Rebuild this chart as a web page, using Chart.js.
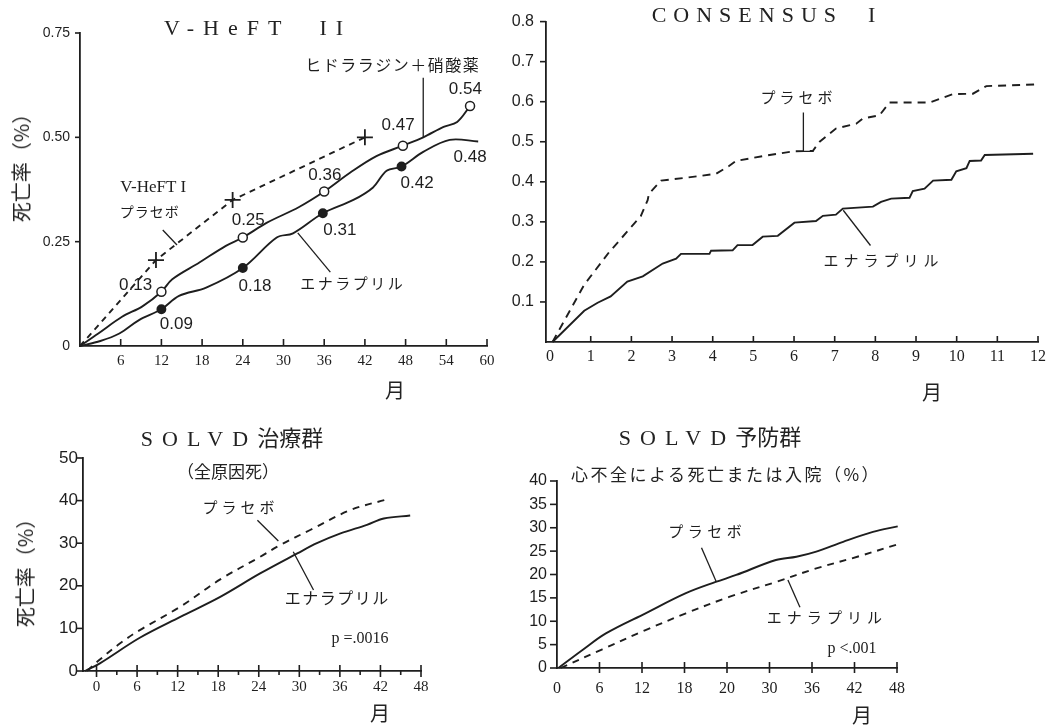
<!DOCTYPE html>
<html><head><meta charset="utf-8">
<script src="https://cdn.jsdelivr.net/npm/chart.js@4.4.1/dist/chart.umd.min.js"></script>
<style>
html,body{margin:0;padding:0;background:#fff;}
#wrap{position:relative;width:1060px;height:728px;overflow:hidden;background:#fff;}
canvas{position:absolute;}
.t{position:absolute;white-space:nowrap;color:#222;line-height:1;transform:translate(-50%,-50%);}
.serif{font-family:"Liberation Serif","DejaVu Serif",serif;}
.jp{font-family:"Noto Sans CJK JP",sans-serif;}
.rot{transform:translate(-50%,-50%) rotate(-90deg);}
</style></head><body>
<div id="wrap">
<canvas id="c1" width="530" height="405" style="left:0;top:0;width:530px;height:405px"></canvas>
<canvas id="c2" width="570" height="405" style="left:490px;top:0;width:570px;height:405px"></canvas>
<canvas id="c3" width="530" height="323" style="left:0;top:405px;width:530px;height:323px"></canvas>
<canvas id="c4" width="570" height="323" style="left:490px;top:405px;width:570px;height:323px"></canvas>

<div class="t serif" style="left:258px;top:28px;font-size:22px;letter-spacing:9px">V-HeFT&nbsp;&nbsp;II</div>
<div class="t serif" style="left:767px;top:15px;font-size:22px;letter-spacing:7px">CONSENSUS&nbsp;&nbsp;I</div>
<div class="t" style="left:232px;top:437px;font-size:22px"><span class="serif" style="letter-spacing:9px">SOLVD</span><span class="jp">治療群</span></div>
<div class="t" style="left:710px;top:436px;font-size:22px"><span class="serif" style="letter-spacing:9px">SOLVD</span><span class="jp">予防群</span></div>
<div class="t jp" style="left:228px;top:470px;font-size:17px">（全原因死）</div>
<div class="t jp" style="left:726px;top:473px;font-size:17px;letter-spacing:2.5px">心不全による死亡または入院（%）</div>
<div class="t jp rot" style="left:21px;top:163px;font-size:20px">死亡率（%）</div>
<div class="t jp rot" style="left:25px;top:568px;font-size:20px">死亡率（%）</div>
<div class="t jp" style="left:395px;top:390px;font-size:20px">月</div>
<div class="t jp" style="left:932px;top:392px;font-size:20px">月</div>
<div class="t jp" style="left:380px;top:713px;font-size:20px">月</div>
<div class="t jp" style="left:862px;top:715px;font-size:20px">月</div>
<div class="t serif" style="left:360px;top:638px;font-size:16px">p =.0016</div>
<div class="t serif" style="left:852px;top:648px;font-size:16px">p &lt;.001</div>
</div>
<script>
// ---------- V-HeFT II ----------
const vheftXTicks = [6, 12, 18, 24, 30, 36, 42, 48, 54, 60];
const vheftYTicks = [0, 0.25, 0.5, 0.75];
const vheftYLabels = ['0', '0.25', '0.50', '0.75'];
const hydMonths = [0, 2.7, 6.2, 9.2, 12, 13.6, 17.6, 21.5, 24, 27.5, 32.3, 36, 39.8, 43.7, 47.6, 50.6, 53.6, 55.6, 57.5];
const hydRate   = [0, 0.03, 0.07, 0.095, 0.13, 0.16, 0.20, 0.24, 0.26, 0.295, 0.333, 0.37, 0.415, 0.455, 0.48, 0.50, 0.525, 0.537, 0.575];
const hydMarkMonths = [12, 24, 36, 47.6, 57.5];
const enaMonths = [0, 3, 5.8, 8.7, 12, 14.6, 18.6, 24, 29, 31.4, 35.8, 40.3, 43.2, 45.2, 47.4, 50.6, 54.5, 58.7];
const enaRate   = [0, 0.012, 0.03, 0.062, 0.088, 0.12, 0.14, 0.187, 0.26, 0.27, 0.318, 0.35, 0.38, 0.42, 0.43, 0.465, 0.494, 0.49];
const enaMarkMonths = [12, 24, 35.8, 47.4];
const plcMonths = [0, 11.2, 22.5, 42];
const plcRate   = [0, 0.206, 0.35, 0.50];
const hydLabels = ['0.13', '0.25', '0.36', '0.47', '0.54'];
const enaLabels = ['0.09', '0.18', '0.31', '0.42', '0.48'];

// ---------- CONSENSUS I ----------
const consXTicks = [0, 1, 2, 3, 4, 5, 6, 7, 8, 9, 10, 11, 12];
const consYTicks = [0.1, 0.2, 0.3, 0.4, 0.5, 0.6, 0.7, 0.8];
const consPlcMonths = [0.06, 0.84, 1.45, 2.23, 2.4, 2.43, 2.73, 3.34, 4.08, 4.41, 4.57, 5.23, 5.97, 6.46, 6.63, 7.03, 7.53, 7.69, 8.1, 8.35, 9.34, 9.91, 10.4, 10.73, 11.96];
const consPlcRate   = [0, 0.143, 0.224, 0.314, 0.354, 0.37, 0.403, 0.41, 0.42, 0.44, 0.452, 0.464, 0.476, 0.477, 0.50, 0.533, 0.545, 0.558, 0.566, 0.598, 0.598, 0.619, 0.62, 0.639, 0.643];
const consEnaMonths = [0.06, 0.84, 1.17, 1.49, 1.9, 2.28, 2.77, 3.1, 3.22, 3.92, 3.96, 4.49, 4.61, 4.98, 5.23, 5.6, 6.01, 6.54, 6.71, 7.03, 7.2, 7.94, 8.14, 8.39, 8.84, 8.92, 9.21, 9.42, 9.87, 9.99, 10.24, 10.32, 10.6, 10.69, 11.88];
const consEnaRate   = [0, 0.078, 0.098, 0.114, 0.151, 0.164, 0.196, 0.208, 0.22, 0.22, 0.228, 0.229, 0.242, 0.242, 0.263, 0.265, 0.298, 0.302, 0.315, 0.318, 0.333, 0.338, 0.35, 0.358, 0.36, 0.377, 0.383, 0.403, 0.405, 0.426, 0.434, 0.452, 0.453, 0.467, 0.47];

// ---------- SOLVD treatment ----------
const solTXTicks = [0, 6, 12, 18, 24, 30, 36, 42, 48];
const solTXMinor = [3, 9, 15, 21, 27, 33, 39, 45];
const solTYTicks = [0, 10, 20, 30, 40, 50];
const solTPlcMonths = [-1.4, 0.5, 3.5, 6.4, 12.4, 18.3, 24.2, 27.2, 31.6, 37.6, 43];
const solTPlcRate   = [0, 2.7, 6.5, 9.6, 15.1, 21.5, 26.8, 29.6, 33.1, 37.8, 40.3];
const solTEnaMonths = [-1.7, 0.5, 6.4, 12.4, 18.3, 24.2, 29.7, 32.6, 36.1, 40, 42.5, 46.4];
const solTEnaRate   = [0, 1.8, 7.8, 12.7, 17.4, 22.9, 27.6, 30.0, 32.3, 34.3, 35.8, 36.5];

// ---------- SOLVD prevention ----------
const solPXTicks = [0, 6, 12, 18, 24, 30, 36, 42, 48];
const solPXLabels = ['0', '6', '12', '18', '20', '30', '36', '42', '48'];
const solPYTicks = [0, 5, 10, 15, 20, 25, 30, 35, 40];
const solPPlcMonths = [0.2, 3.6, 6.9, 12.5, 18.2, 22.4, 25.3, 30.9, 33.8, 36.6, 40.4, 44.6, 48.1];
const solPPlcRate   = [0, 3.85, 7.4, 11.7, 16.0, 18.4, 19.9, 23.1, 23.8, 24.9, 27.0, 29.1, 30.3];
const solPEnaMonths = [0.5, 6.4, 12.5, 18.2, 24.3, 30.9, 36.6, 42.4, 48.4];
const solPEnaRate   = [0, 4.0, 8.1, 11.7, 15.2, 18.4, 21.3, 23.8, 26.6];

// ---------- drawing ----------
const INK = '#1e1e1e';
const SERIF = '"Liberation Serif","DejaVu Serif",serif';
const SANS = '"Liberation Sans","DejaVu Sans",sans-serif';
const JP = '"Noto Sans CJK JP",sans-serif';
const pts = (xs, ys) => xs.map((x, i) => ({x: x, y: ys[i]}));

const MARKS = {}, NOTES = {};

const tickPlugin = {
  id: 'tickMarks',
  afterDraw(chart) {
    const ctx = chart.ctx, list = MARKS[chart.canvas.id] || [];
    ctx.save(); ctx.strokeStyle = INK; ctx.lineWidth = 1.6;
    list.forEach(m => {
      const s = chart.scales[m.axis];
      m.values.forEach(v => {
        const p = s.getPixelForValue(v);
        ctx.beginPath();
        if (m.axis === 'x') { ctx.moveTo(p, s.top + (m.down || 0)); ctx.lineTo(p, s.top - (m.up || 0)); }
        else { ctx.moveTo(s.right - (m.out || 0), p); ctx.lineTo(s.right + (m.in || 0), p); }
        ctx.stroke();
      });
    });
    ctx.restore();
  }
};

const notePlugin = {
  id: 'notes',
  afterDatasetsDraw(chart) {
    const ctx = chart.ctx, n = NOTES[chart.canvas.id] || {};
    const xs = chart.scales.x, ys = chart.scales.y;
    ctx.save(); ctx.strokeStyle = INK; ctx.fillStyle = INK; ctx.lineWidth = 1.3;
    (n.lines || []).forEach(l => {
      ctx.beginPath();
      for (let i = 0; i < l.length; i += 2) {
        const X = xs.getPixelForValue(l[i]), Y = ys.getPixelForValue(l[i + 1]);
        if (i) ctx.lineTo(X, Y); else ctx.moveTo(X, Y);
      }
      ctx.stroke();
    });
    (n.texts || []).forEach(t => {
      ctx.font = t.font;
      ctx.letterSpacing = (t.ls || 0) + 'px';
      ctx.textBaseline = 'middle'; ctx.textAlign = 'center';
      ctx.fillText(t.text, xs.getPixelForValue(t.x), ys.getPixelForValue(t.y));
    });
    ctx.restore();
  }
};

function lineDs(xs, ys, o) {
  return Object.assign({
    data: pts(xs, ys), borderColor: INK, backgroundColor: INK, borderWidth: 1.9,
    pointRadius: 0, tension: 0.35, fill: false, clip: false
  }, o || {});
}

function build(id, s) {
  return new Chart(document.getElementById(id), {
    type: 'line',
    data: {datasets: s.datasets},
    options: {
      responsive: false, animation: false, devicePixelRatio: 1,
      layout: {padding: s.pad},
      plugins: {legend: {display: false}, tooltip: {enabled: false}},
      scales: {
        x: {
          type: 'linear', min: s.x.min, max: s.x.max,
          afterBuildTicks: sc => { sc.ticks = s.x.ticks.map(v => ({value: v})); },
          afterFit: sc => { sc.height = s.x.h; },
          grid: {display: false, drawTicks: false},
          border: {display: true, color: INK, width: 1.8},
          ticks: {padding: s.x.pad, color: INK, font: {family: SERIF, size: s.x.fs}, maxRotation: 0, autoSkip: false,
                  callback: (v, i) => s.x.labels[i]}
        },
        y: {
          type: 'linear', min: s.y.min, max: s.y.max,
          afterBuildTicks: sc => { sc.ticks = s.y.ticks.map(v => ({value: v})); },
          afterFit: sc => { sc.width = s.y.w; },
          grid: {display: false, drawTicks: false},
          border: {display: true, color: INK, width: 1.8},
          ticks: {padding: s.y.pad, color: INK, font: {family: SANS, size: s.y.fs}, autoSkip: false,
                  callback: (v, i) => s.y.labels[i]}
        }
      }
    },
    plugins: [tickPlugin, notePlugin]
  });
}

const NUM = '17px ' + SANS;

// Panel 1
MARKS.c1 = [{axis: 'x', values: vheftXTicks, up: 7}, {axis: 'y', values: vheftYTicks.slice(1), out: 5}];
NOTES.c1 = {
  texts: [
    {x: 8.2, y: 0.146, text: hydLabels[0], font: NUM},
    {x: 24.8, y: 0.30, text: hydLabels[1], font: NUM},
    {x: 36.1, y: 0.41, text: hydLabels[2], font: NUM},
    {x: 46.9, y: 0.528, text: hydLabels[3], font: NUM},
    {x: 56.8, y: 0.616, text: hydLabels[4], font: NUM},
    {x: 14.2, y: 0.053, text: enaLabels[0], font: NUM},
    {x: 25.8, y: 0.144, text: enaLabels[1], font: NUM},
    {x: 38.3, y: 0.278, text: enaLabels[2], font: NUM},
    {x: 49.7, y: 0.391, text: enaLabels[3], font: NUM},
    {x: 57.5, y: 0.453, text: enaLabels[4], font: NUM},
    {x: 46.1, y: 0.674, text: 'ヒドララジン＋硝酸薬', font: '16px ' + JP, ls: 1.5},
    {x: 10.8, y: 0.379, text: 'V-HeFT I', font: '17px ' + SERIF},
    {x: 10.3, y: 0.321, text: 'プラセボ', font: '14px ' + JP, ls: 1},
    {x: 40.2, y: 0.151, text: 'エナラプリル', font: '15px ' + JP, ls: 2.5}
  ],
  lines: [[50.6, 0.643, 50.6, 0.501], [12.2, 0.278, 14.3, 0.242], [36.9, 0.177, 32.1, 0.271]]
};
build('c1', {
  pad: {left: 30, top: 33, right: 43, bottom: 19},
  x: {min: 0, max: 60, ticks: vheftXTicks, labels: vheftXTicks.map(String), h: 40, pad: 6, fs: 15},
  y: {min: 0, max: 0.75, ticks: vheftYTicks, labels: vheftYLabels, w: 50, pad: 10, fs: 14},
  datasets: [
    lineDs(plcMonths, plcRate, {borderDash: [6, 5], tension: 0, pointStyle: 'cross',
      pointRadius: c => c.dataIndex > 0 ? 8 : 0, pointBorderWidth: 1.8, pointBorderColor: INK}),
    lineDs(hydMonths, hydRate, {pointStyle: 'circle', pointBackgroundColor: '#fff', pointBorderColor: INK, pointBorderWidth: 1.5,
      pointRadius: c => hydMarkMonths.includes(hydMonths[c.dataIndex]) ? 4.5 : 0}),
    lineDs(enaMonths, enaRate, {pointStyle: 'circle', pointBackgroundColor: INK, pointBorderColor: INK,
      pointRadius: c => enaMarkMonths.includes(enaMonths[c.dataIndex]) ? 4 : 0})
  ]
});

// Panel 2
MARKS.c2 = [{axis: 'x', values: consXTicks.slice(1), up: 6}, {axis: 'y', values: consYTicks, out: 6}];
NOTES.c2 = {
  texts: [
    {x: 6.11, y: 0.61, text: 'プラセボ', font: '15px ' + JP, ls: 4},
    {x: 8.2, y: 0.205, text: 'エナラプリル', font: '15px ' + JP, ls: 5}
  ],
  lines: [[6.23, 0.573, 6.23, 0.476, 6.48, 0.476], [7.88, 0.241, 7.21, 0.329]]
};
build('c2', {
  pad: {left: 6, top: 14, right: 22, bottom: 23},
  x: {min: -0.1, max: 12, ticks: consXTicks, labels: consXTicks.map(String), h: 40, pad: 5, fs: 16},
  y: {min: 0, max: 0.8, ticks: consYTicks, labels: consYTicks.map(v => v.toFixed(1)), w: 50, pad: 12, fs: 16},
  datasets: [
    lineDs(consPlcMonths, consPlcRate, {borderDash: [8, 6], tension: 0}),
    lineDs(consEnaMonths, consEnaRate, {tension: 0})
  ]
});

// Panel 3
MARKS.c3 = [{axis: 'x', values: solTXTicks, up: 6, down: 6}, {axis: 'x', values: solTXMinor, down: 4},
            {axis: 'y', values: solTYTicks, out: 6}];
NOTES.c3 = {
  texts: [
    {x: 21.3, y: 38.5, text: 'プラセボ', font: '15px ' + JP, ls: 4},
    {x: 35.6, y: 17.1, text: 'エナラプリル', font: '16px ' + JP, ls: 1.5}
  ],
  lines: [[23.8, 35.4, 26.9, 30.5], [32.1, 19.0, 29.1, 28.0]]
};
build('c3', {
  pad: {left: 33, top: 53, right: 109, bottom: 27},
  x: {min: -2, max: 48, ticks: solTXTicks, labels: solTXTicks.map(String), h: 30, pad: 7, fs: 15},
  y: {min: 0, max: 50, ticks: solTYTicks, labels: solTYTicks.map(String), w: 50, pad: 5, fs: 17},
  datasets: [
    lineDs(solTPlcMonths, solTPlcRate, {borderDash: [7, 6]}),
    lineDs(solTEnaMonths, solTEnaRate)
  ]
});

// Panel 4
MARKS.c4 = [{axis: 'x', values: solPXTicks.slice(1), up: 6, down: 5}, {axis: 'y', values: solPYTicks, out: 7}];
NOTES.c4 = {
  texts: [
    {x: 21.2, y: 29.3, text: 'プラセボ', font: '15px ' + JP, ls: 4.5},
    {x: 38.1, y: 10.9, text: 'エナラプリル', font: '15px ' + JP, ls: 5}
  ],
  lines: [[20.4, 25.7, 22.5, 18.4], [34.3, 13.0, 32.6, 18.8]]
};
build('c4', {
  pad: {left: 17, top: 76, right: 163, bottom: 30},
  x: {min: 0, max: 48, ticks: solPXTicks, labels: solPXLabels, h: 30, pad: 11, fs: 16},
  y: {min: 0, max: 40, ticks: solPYTicks, labels: solPYTicks.map(String), w: 50, pad: 10, fs: 16},
  datasets: [
    lineDs(solPPlcMonths, solPPlcRate),
    lineDs(solPEnaMonths, solPEnaRate, {borderDash: [7, 6]})
  ]
});
</script>
</body></html>
